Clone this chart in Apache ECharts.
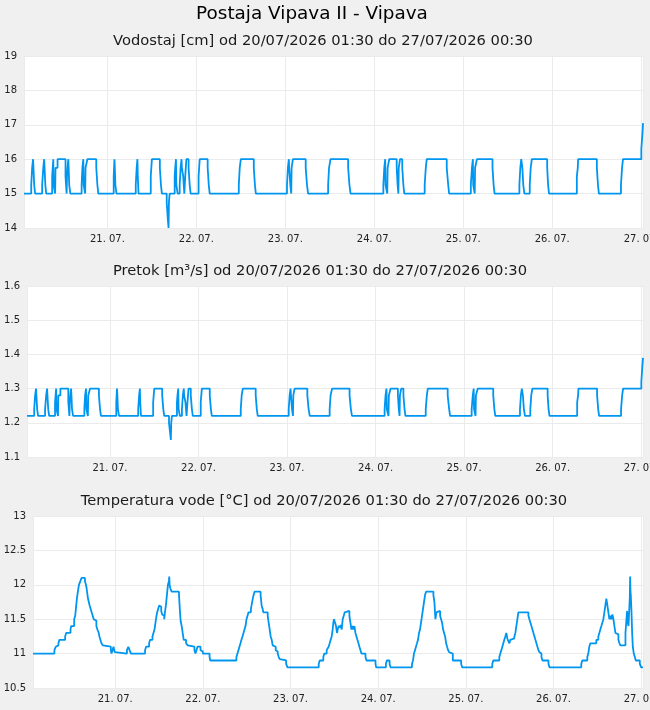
<!doctype html>
<html>
<head>
<meta charset="utf-8">
<title>Postaja Vipava II - Vipava</title>
<script src="https://cdn.jsdelivr.net/npm/echarts@6/dist/echarts.min.js"></script>
</head>
<body style="margin:0;padding:0;background:#f0f0f0">
<div id="graf" style="width:650px;height:710px;"></div>
<script>
// ure od 20/07/2026 00:00, vrednosti odčitane s slike
var naslov = 'Postaja Vipava II - Vipava';
var podnaslovi = [
  'Vodostaj [cm] od 20/07/2026 01:30 do 27/07/2026 00:30',
  'Pretok [m³/s] od 20/07/2026 01:30 do 27/07/2026 00:30',
  'Temperatura vode [°C] od 20/07/2026 01:30 do 27/07/2026 00:30'
];
var zacetekUra = 1.5;
var konecUra = 168.5;

// vodostaj [ura, cm] - stopničasti potek
var vodostaj = [
  [1.5,15],[3.45,15.25],[3.7,15.75],[3.95,16],[4.05,15.75],[4.25,15.25],[4.5,15],
  [6.4,15.25],[6.7,15.75],[6.95,16],[7.05,15.75],[7.25,15.25],[7.5,15],
  [9.1,15.5],[9.4,16],[9.5,15.25],[9.9,15],[10.0,15.75],[10.55,16],
  [12.7,15.5],[13.0,15],[13.1,15.5],[13.25,15.75],[13.45,16],[13.55,15.75],[13.7,15.25],[14.0,15],
  [17.05,15.25],[17.25,15.75],[17.5,16],[17.6,15.25],[18.0,15],[18.1,15.75],[18.6,16],
  [21.0,15.75],[21.3,15.25],[21.55,15],
  [25.7,15.5],[25.9,16],[26.0,15.75],[26.15,15.25],[26.45,15],
  [31.65,15.25],[31.9,15.75],[32.1,16],[32.2,15.5],[32.4,15],
  [35.7,15.5],[36.0,16],[38.15,15.75],[38.45,15.25],[38.7,15],
  [40.0,14.75],[40.3,14.25],[40.5,14],[40.6,14.75],[40.8,15],
  [42.15,15.5],[42.3,15.75],[42.5,16],[42.6,15.25],[42.95,15],
  [43.5,15.25],[43.75,15.75],[44.0,16],[44.1,15.75],[44.45,15.5],[44.75,15],
  [45.0,15.5],[45.3,16],[45.9,15.75],[46.2,15.25],[46.45,15],
  [48.6,15.5],[48.9,16],[51.05,15.75],[51.35,15.25],[51.6,15],
  [59.45,15.25],[59.7,15.75],[60.0,16],[63.5,15.75],[63.8,15.25],[64.05,15],
  [72.45,15.25],[72.7,15.75],[72.95,16],[73.05,15.75],[73.35,15.25],[73.6,15],[73.7,15.75],[74.05,16],
  [77.5,15.75],[77.85,15.25],[78.15,15],
  [83.55,15.25],[83.8,15.75],[84.2,16],[88.95,15.75],[89.3,15.25],[89.6,15],
  [98.45,15.25],[98.7,15.75],[98.95,16],[99.05,15.25],[99.5,15],[99.6,15.75],[100.05,16],
  [102.05,15.75],[102.3,15.25],[102.5,15],[102.6,15.75],[102.95,16],[103.55,15.75],[103.85,15.25],[104.1,15],
  [109.6,15.25],[109.9,15.75],[110.15,16],[115.55,15.75],[115.95,15.25],[116.2,15],
  [122.05,15.25],[122.35,15.75],[122.6,16],[122.7,15.25],[123.1,15],[123.2,15.75],[123.7,16],
  [127.9,15.75],[128.2,15.25],[128.45,15],
  [135.15,15.25],[135.4,15.75],[135.65,16],[135.95,15.75],[136.2,15.25],[136.5,15],
  [137.95,15.25],[138.2,15.75],[138.5,16],[142.65,15.75],[142.9,15.25],[143.15,15],
  [150.65,15.5],[150.9,15.75],[151.0,16],[156.05,15.75],[156.35,15.25],[156.6,15],
  [162.55,15.25],[162.85,15.75],[163.1,16],[168.05,16.3],[168.35,16.75],[168.5,17.05]
];

// pretok [ura, m3/s]
var pretok = [
  [1.5,1.22],[3.45,1.24],[3.7,1.28],[3.95,1.3],[4.05,1.28],[4.25,1.24],[4.5,1.22],
  [6.4,1.24],[6.7,1.28],[6.95,1.3],[7.05,1.28],[7.25,1.24],[7.5,1.22],
  [9.1,1.26],[9.4,1.3],[9.5,1.24],[9.9,1.22],[10.0,1.28],[10.55,1.3],
  [12.7,1.26],[13.0,1.22],[13.1,1.26],[13.25,1.28],[13.45,1.3],[13.55,1.28],[13.7,1.24],[14.0,1.22],
  [17.05,1.24],[17.25,1.28],[17.5,1.3],[17.6,1.24],[18.0,1.22],[18.1,1.28],[18.6,1.3],
  [21.0,1.28],[21.3,1.24],[21.55,1.22],
  [25.7,1.26],[25.9,1.3],[26.0,1.28],[26.15,1.24],[26.45,1.22],
  [31.65,1.24],[31.9,1.28],[32.1,1.3],[32.2,1.26],[32.4,1.22],
  [35.7,1.26],[36.0,1.3],[38.15,1.28],[38.45,1.24],[38.7,1.22],
  [40.0,1.2],[40.3,1.17],[40.5,1.15],[40.6,1.2],[40.8,1.22],
  [42.15,1.26],[42.3,1.28],[42.5,1.3],[42.6,1.24],[42.95,1.22],
  [43.5,1.24],[43.75,1.28],[44.0,1.3],[44.1,1.28],[44.45,1.26],[44.75,1.22],
  [45.0,1.26],[45.3,1.3],[45.9,1.28],[46.2,1.24],[46.45,1.22],
  [48.6,1.26],[48.9,1.3],[51.05,1.28],[51.35,1.24],[51.6,1.22],
  [59.45,1.24],[59.7,1.28],[60.0,1.3],[63.5,1.28],[63.8,1.24],[64.05,1.22],
  [72.45,1.24],[72.7,1.28],[72.95,1.3],[73.05,1.28],[73.35,1.24],[73.6,1.22],[73.7,1.28],[74.05,1.3],
  [77.5,1.28],[77.85,1.24],[78.15,1.22],
  [83.55,1.24],[83.8,1.28],[84.2,1.3],[88.95,1.28],[89.3,1.24],[89.6,1.22],
  [98.45,1.24],[98.7,1.28],[98.95,1.3],[99.05,1.24],[99.5,1.22],[99.6,1.28],[100.05,1.3],
  [102.05,1.28],[102.3,1.24],[102.5,1.22],[102.6,1.28],[102.95,1.3],[103.55,1.28],[103.85,1.24],[104.1,1.22],
  [109.6,1.24],[109.9,1.28],[110.15,1.3],[115.55,1.28],[115.95,1.24],[116.2,1.22],
  [122.05,1.24],[122.35,1.28],[122.6,1.3],[122.7,1.24],[123.1,1.22],[123.2,1.28],[123.7,1.3],
  [127.9,1.28],[128.2,1.24],[128.45,1.22],
  [135.15,1.24],[135.4,1.28],[135.65,1.3],[135.95,1.28],[136.2,1.24],[136.5,1.22],
  [137.95,1.24],[138.2,1.28],[138.5,1.3],[142.65,1.28],[142.9,1.24],[143.15,1.22],
  [150.65,1.26],[150.9,1.28],[151.0,1.3],[156.05,1.28],[156.35,1.24],[156.6,1.22],
  [162.55,1.24],[162.85,1.28],[163.1,1.3],[168.05,1.32],[168.35,1.37],[168.5,1.39]
];

// temperatura vode [ura, °C]
var temperatura = [
  [1.5,11.0],[7.36,11.05],[7.73,11.1],[8.09,11.12],[8.46,11.15],[8.74,11.2],[10.3,11.25],[10.58,11.3],
  [11.77,11.35],[11.95,11.4],[12.78,11.5],[13.06,11.55],[13.24,11.65],[13.52,11.8],[13.79,11.9],[14.07,12.0],
  [14.44,12.05],[14.81,12.1],[15.72,12.05],[16.0,12.0],[16.18,11.95],[16.37,11.87],[16.55,11.8],[16.83,11.78],
  [17.01,11.7],[17.29,11.65],[17.56,11.6],[17.84,11.55],[18.12,11.5],[18.58,11.48],[18.85,11.4],[19.13,11.35],
  [19.5,11.3],[19.68,11.25],[19.95,11.2],[20.23,11.15],[20.6,11.12],[20.87,11.1],[22.81,11.05],[22.99,11.0],
  [23.27,11.05],[23.54,11.1],[23.72,11.05],[23.91,11.02],[24.09,11.0],[27.22,11.05],[27.59,11.1],[27.95,11.05],
  [28.32,11.0],[32.18,11.05],[32.46,11.1],[33.29,11.15],[33.56,11.2],[34.21,11.25],[34.48,11.3],[34.76,11.35],
  [35.03,11.45],[35.31,11.55],[35.49,11.6],[35.77,11.65],[36.05,11.7],[36.32,11.68],[36.6,11.62],[36.87,11.57],
  [37.15,11.55],[37.43,11.5],[37.61,11.6],[37.89,11.7],[38.16,11.85],[38.44,12.0],[38.71,12.05],[38.8,12.12],
  [38.9,12.0],[39.08,11.95],[39.45,11.9],[41.47,11.85],[41.75,11.6],[41.93,11.47],[42.21,11.4],[42.48,11.3],
  [42.76,11.2],[43.4,11.15],[43.86,11.12],[44.04,11.1],[45.7,11.05],[45.98,11.0],[46.25,11.05],[46.53,11.1],
  [47.36,11.05],[47.72,11.03],[48.0,11.0],[49.84,10.95],[50.02,10.9],[57.19,10.95],[57.47,11.0],[57.75,11.05],
  [58.02,11.1],[58.3,11.15],[58.57,11.2],[58.85,11.25],[59.13,11.3],[59.4,11.35],[59.68,11.4],[59.95,11.5],
  [60.23,11.55],[60.5,11.6],[61.15,11.65],[61.33,11.7],[61.61,11.78],[61.88,11.85],[62.16,11.9],[63.81,11.85],
  [64.09,11.7],[64.37,11.65],[64.55,11.6],[65.75,11.55],[66.02,11.45],[66.3,11.35],[66.57,11.25],[66.85,11.2],
  [67.12,11.12],[67.4,11.1],[67.95,11.05],[68.23,11.03],[68.5,11.0],[68.78,10.95],[69.06,10.92],[69.33,10.9],
  [70.8,10.85],[71.17,10.8],[79.72,10.85],[80.0,10.9],[80.98,10.95],[81.25,11.0],[81.9,11.05],[82.44,11.1],
  [82.72,11.15],[82.99,11.2],[83.27,11.25],[83.54,11.35],[83.73,11.45],[83.91,11.5],[84.19,11.45],[84.46,11.4],
  [84.73,11.3],[84.92,11.35],[85.19,11.4],[85.47,11.38],[85.74,11.42],[86.02,11.35],[86.29,11.5],[86.57,11.55],
  [86.84,11.6],[87.02,11.62],[88.12,11.55],[88.4,11.45],[88.67,11.35],[88.95,11.4],[89.22,11.35],[89.5,11.4],
  [89.77,11.3],[90.05,11.25],[90.32,11.2],[90.6,11.15],[90.87,11.1],[91.15,11.05],[91.42,11.0],[92.52,10.95],
  [92.8,10.9],[95.27,10.85],[95.45,10.8],[98.11,10.85],[98.38,10.9],[99.12,10.85],[99.39,10.8],[105.25,10.85],
  [105.53,10.9],[105.8,11.0],[106.08,11.05],[106.35,11.1],[106.63,11.15],[106.9,11.2],[107.18,11.3],[107.45,11.35],
  [107.73,11.45],[108.0,11.55],[108.28,11.65],[108.55,11.75],[108.83,11.85],[109.1,11.9],[111.12,11.85],[111.39,11.75],
  [111.67,11.5],[111.94,11.6],[112.21,11.62],[112.95,11.55],[113.22,11.5],[113.5,11.45],[113.77,11.35],[114.05,11.3],
  [114.32,11.25],[114.6,11.15],[114.87,11.1],[115.15,11.05],[115.42,11.02],[115.7,11.0],[116.43,10.9],[118.72,10.85],
  [118.99,10.8],[127.24,10.85],[127.51,10.9],[129.16,10.95],[129.44,11.0],[129.71,11.05],[129.99,11.1],[130.26,11.15],
  [130.53,11.2],[130.81,11.25],[131.08,11.3],[131.36,11.22],[131.63,11.18],[131.91,11.15],[132.18,11.2],[132.46,11.22],
  [133.28,11.25],[133.56,11.3],[133.83,11.4],[134.11,11.5],[134.38,11.6],[137.13,11.55],[137.4,11.5],[137.68,11.45],
  [137.95,11.4],[138.23,11.35],[138.5,11.3],[138.78,11.25],[139.05,11.2],[139.33,11.15],[139.6,11.1],[139.88,11.05],
  [140.15,11.02],[140.43,11.0],[140.7,10.95],[140.98,10.9],[142.63,10.85],[142.9,10.8],[151.6,10.85],[151.88,10.9],
  [153.25,10.95],[153.53,11.0],[153.8,11.1],[154.08,11.15],[155.72,11.2],[156.27,11.25],[156.55,11.3],[156.82,11.35],
  [157.1,11.4],[157.37,11.45],[157.65,11.5],[157.92,11.6],[158.2,11.7],[158.47,11.8],[158.75,11.7],[159.02,11.6],
  [159.3,11.5],[159.57,11.55],[159.85,11.5],[160.12,11.57],[160.4,11.5],[160.67,11.4],[160.95,11.3],[161.22,11.28],
  [161.77,11.2],[162.05,11.15],[162.32,11.12],[163.7,11.3],[163.97,11.5],[164.15,11.62],[164.34,11.45],[164.52,11.4],
  [164.7,11.6],[164.88,11.8],[164.98,12.12],[165.07,11.9],[165.16,11.85],[165.35,11.6],[165.53,11.3],[165.71,11.1],
  [165.98,11.0],[166.26,10.95],[166.53,10.9],[167.63,10.85],[168.0,10.8],[168.5,10.8]
];

// y osi: [min, max, korak]
var yObmocja = [[14, 19, 1], [1.1, 1.6, 0.1], [10.5, 13, 0.5]];

var zacetek = new Date(2026, 6, 20, 0, 0, 0).getTime();
var URA = 3600 * 1000;
function vCas(niz) {
  return niz.map(function (p) { return [zacetek + p[0] * URA, p[1]]; });
}

var barvaCrte = '#0096f0';
var barvaMreze = '#ebebeb';
var pisava = 'DejaVu Sans';

var mreze = [
  {left: 24, right: 7, top: 56, height: 172},
  {left: 27, right: 7, top: 286, height: 171},
  {left: 33, right: 7, top: 516, height: 172}
];
var naslovY = [31, 261, 491];
var naslovX = [323, 320, 324];

var chart = echarts.init(document.getElementById('graf'));

var xOsi = [], yOsi = [], serije = [], naslovi = [];
naslovi.push({
  text: naslov, left: 312, top: 3, textAlign: 'center', padding: 0,
  textStyle: {fontFamily: pisava, fontSize: 18.4, fontWeight: 'normal', color: '#000', lineHeight: 22}
});
var podatki = [vodostaj, pretok, temperatura];
for (var i = 0; i < 3; i++) {
  mreze[i].show = true;
  mreze[i].backgroundColor = '#ffffff';
  mreze[i].borderWidth = 0;
  mreze[i].containLabel = false;
  mreze[i].outerBoundsMode = 'none';
  naslovi.push({
    text: podnaslovi[i], left: naslovX[i], top: naslovY[i] + 1, textAlign: 'center', padding: 0,
    textStyle: {fontFamily: pisava, fontSize: 14.7, fontWeight: 'normal', color: '#1a1a1a', lineHeight: 18}
  });
  xOsi.push({
    type: 'time', gridIndex: i,
    min: zacetek + zacetekUra * URA, max: zacetek + konecUra * URA,
    minInterval: 24 * URA, maxInterval: 24 * URA,
    axisLine: {show: false}, axisTick: {show: false},
    splitLine: {show: true, lineStyle: {color: barvaMreze, width: 1}},
    axisLabel: {
      fontFamily: pisava, fontSize: 10, color: '#222', margin: 6,
      showMinLabel: false, showMaxLabel: false, hideOverlap: false,
      formatter: function (v) {
        var d = new Date(v);
        var dd = ('0' + d.getDate()).slice(-2), mm = ('0' + (d.getMonth() + 1)).slice(-2);
        return dd + '. ' + mm + '.';
      }
    }
  });
  yOsi.push({
    type: 'value', gridIndex: i,
    min: yObmocja[i][0], max: yObmocja[i][1], interval: yObmocja[i][2],
    axisLine: {show: false}, axisTick: {show: false},
    splitLine: {lineStyle: {color: barvaMreze, width: 1}},
    axisLabel: {fontFamily: pisava, fontSize: 10, color: '#222', margin: 7}
  });
  serije.push({
    type: 'line', xAxisIndex: i, yAxisIndex: i,
    data: vCas(podatki[i]), step: 'end',
    showSymbol: false, symbol: 'none',
    lineStyle: {color: barvaCrte, width: 1.8}
  });
}

chart.setOption({
  backgroundColor: '#f0f0f0',
  animation: false,
  title: naslovi,
  grid: mreze,
  xAxis: xOsi,
  yAxis: yOsi,
  series: serije
});
</script>
</body>
</html>
